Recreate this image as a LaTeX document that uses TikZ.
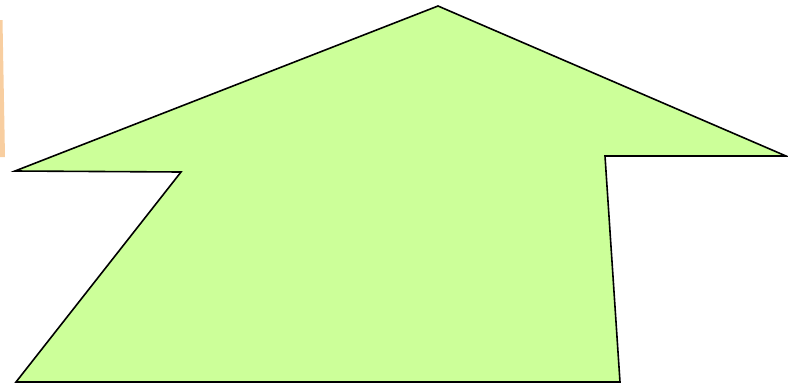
\documentclass[tikz,border=0pt]{standalone}
\usepackage{xcolor}
\definecolor{arrowgreen}{RGB}{204,255,153}
\definecolor{edgeorange}{RGB}{248,206,160}

\begin{document}
\begin{tikzpicture}[x=1pt,y=-1pt,
      bigarrow/.style={draw=black,fill=arrowgreen,line width=1.6pt,line join=miter},
      strip/.style={fill=edgeorange,draw=none}]
    \useasboundingbox (0,0) rectangle (788,384);
    % orange strip at the left edge
    \fill[strip] (0,20) -- (2.5,20) -- (5,157) -- (0,157) -- cycle;
    % the arrow
    \coordinate (tip)   at (438,6);
    \coordinate (rtip)  at (786,156);
    \coordinate (rin)   at (605,156);
    \coordinate (rbot)  at (620,382);
    \coordinate (lbot)  at (16,382);
    \coordinate (lin)   at (181,172);
    \coordinate (ltip)  at (15,171);
    \draw[bigarrow] (tip) -- (rtip) -- (rin) -- (rbot) -- (lbot) -- (lin) -- (ltip) -- cycle;
  \end{tikzpicture}
\end{document}
